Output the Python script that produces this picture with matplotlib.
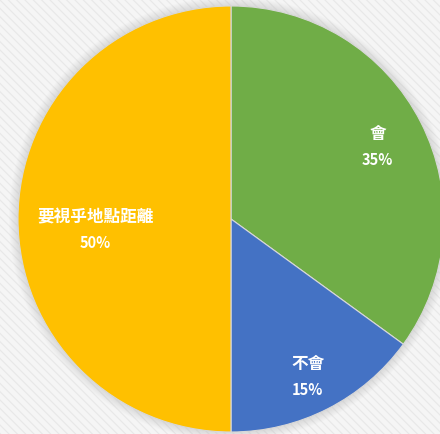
import matplotlib
matplotlib.use("Agg")
import matplotlib.pyplot as plt
import numpy as np
from matplotlib.patches import Rectangle, Circle

plt.rcParams['font.family'] = ['Noto Sans CJK TC', 'DejaVu Sans']
plt.rcParams['hatch.linewidth'] = 0.8

categories = ['會', '不會', '要視乎地點距離']
values = [35, 15, 50]
colors = ['#70AD47', '#4472C4', '#FFC000']
# label placement: fraction of radius, angle offset (deg) from wedge middle
label_dist = [0.77, 0.82, 0.64]
label_ang_off = [0.5, 1.0, -4.2]

W, H = 440, 435
fig = plt.figure(figsize=(W / 100, H / 100), dpi=100)
fig.patch.set_facecolor('#f3f3f3')
ax = fig.add_axes([0, 0, 1, 1])

# striped background
ax.add_patch(Rectangle((0, 0), W, H, facecolor='#f5f5f5', edgecolor='#e8e8e8',
                       hatch='\\\\\\\\', lw=0, zorder=0))

cx, cy, r = 231, 215, 213
# soft shadow
for i in range(10):
    ax.add_patch(Circle((cx, cy), r + 9 - i, facecolor='#a8a8a8', alpha=0.035,
                        edgecolor='none', zorder=1))

wedges, _ = ax.pie(values, colors=colors, startangle=90, counterclock=False,
                   center=(cx, cy), radius=r, frame=True,
                   wedgeprops=dict(linewidth=0.8, edgecolor='#d8d8d8'))
for w in wedges:
    w.set_zorder(2)
ax.set_xlim(0, W)
ax.set_ylim(0, H)
ax.set_aspect('equal')
ax.axis('off')

for w, cat, v, d, off in zip(wedges, categories, values, label_dist, label_ang_off):
    ang = np.deg2rad((w.theta1 + w.theta2) / 2 - off)
    x = cx + d * r * np.cos(ang)
    y = cy + d * r * np.sin(ang)
    ax.text(x, y + 13, cat, ha='center', va='center', color='white',
            fontsize=12, fontweight='bold', zorder=3)
    ax.text(x, y - 13, f'{v}%', ha='center', va='center', color='white',
            fontsize=10.5, fontweight='bold', zorder=3)

fig.savefig('out.png', dpi=100, facecolor=fig.get_facecolor())
